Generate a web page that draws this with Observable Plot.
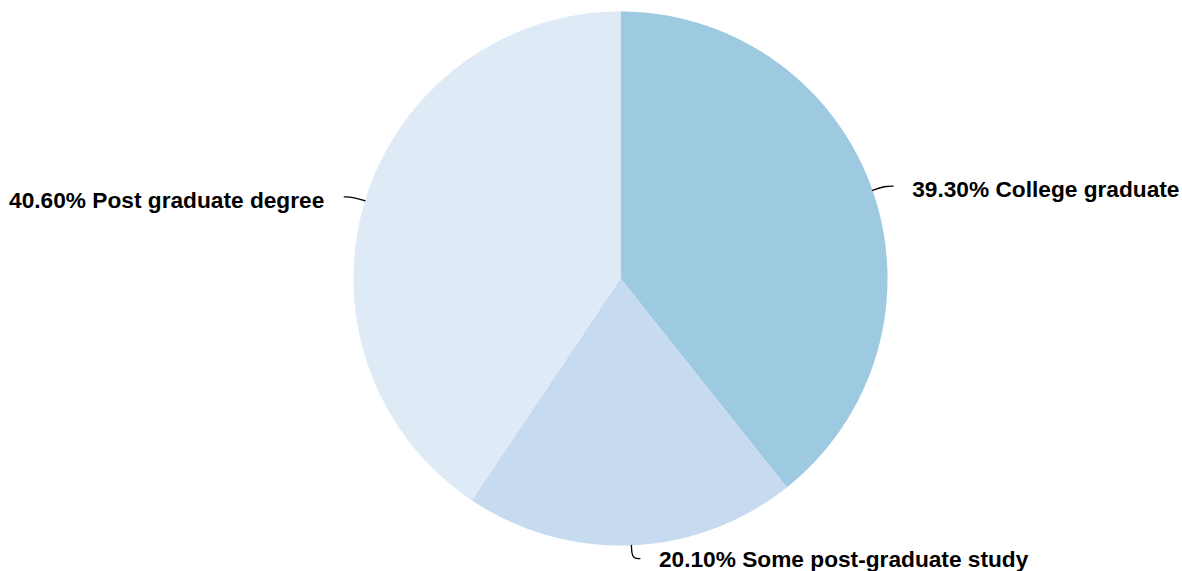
<!DOCTYPE html>
<html>
<head>
<meta charset="utf-8">
<script src="https://cdn.jsdelivr.net/npm/d3@7"></script>
<script src="https://cdn.jsdelivr.net/npm/@observablehq/plot@0.6"></script>
<style>
  html, body { margin: 0; padding: 0; background: #fff; }
  #chart svg { display: block; }
</style>
</head>
<body>
<div id="chart"></div>
<script>
const labels = ["College graduate", "Some post-graduate study", "Post graduate degree"];
const values = [39.3, 20.1, 40.6];
const colors = ["#9ecae1", "#c6dbef", "#deebf7"];

const W = 1182, H = 571;
const cx = 620, cy = 278, R = 267;

const total = d3.sum(values);
const ends = d3.cumsum(values);
const slices = labels.map((label, i) => {
  const a0 = (ends[i] - values[i]) / total * 2 * Math.PI;
  const a1 = ends[i] / total * 2 * Math.PI;
  return {label, value: values[i], a0, a1, mid: (a0 + a1) / 2};
});

// slice polygons (unit circle, angle clockwise from top)
const polys = [];
for (const s of slices) {
  polys.push({label: s.label, x: 0, y: 0});
  const n = Math.max(2, Math.ceil((s.a1 - s.a0) / 0.005));
  for (let k = 0; k <= n; k++) {
    const a = s.a0 + (s.a1 - s.a0) * k / n;
    polys.push({label: s.label, x: Math.sin(a), y: Math.cos(a)});
  }
}

// leader lines and label anchors
const ext = 8 / R;
const leaders = [];
const texts = [];
for (const s of slices) {
  const sx = Math.sin(s.mid), sy = Math.cos(s.mid);
  const side = sx >= 0 ? 1 : -1;
  const ex = 1.05 * sx, ey = 1.05 * sy;
  leaders.push({label: s.label, x: sx, y: sy});
  leaders.push({label: s.label, x: ex, y: ey});
  leaders.push({label: s.label, x: ex + side * ext, y: ey});
  texts.push({
    x: ex + side * ext, y: ey, side, bottom: sy < -0.9,
    text: d3.format(".2f")(s.value) + "% " + s.label
  });
}

const font = "Helvetica, Arial, 'Liberation Sans', sans-serif";
const textOpts = {x: "x", y: "y", text: "text", fontSize: 22.7, fontWeight: "bold", fill: "#000", fontFamily: font};
const chart = Plot.plot({
  width: W,
  height: H,
  margin: 0,
  x: {domain: [-cx / R, (W - cx) / R], axis: null},
  y: {domain: [-(H - cy) / R, cy / R], axis: null},
  color: {domain: labels, range: colors},
  marks: [
    Plot.line(polys, {x: "x", y: "y", z: "label", fill: "label", stroke: null}),
    Plot.line(leaders, {x: "x", y: "y", z: "label", stroke: "#000", strokeWidth: 1.3, curve: "basis"}),
    Plot.text(texts.filter(d => d.side > 0 && !d.bottom), {...textOpts, textAnchor: "start", dx: 19, dy: 4}),
    Plot.text(texts.filter(d => d.bottom), {...textOpts, textAnchor: "start", dx: 19, dy: 1}),
    Plot.text(texts.filter(d => d.side < 0), {...textOpts, textAnchor: "end", dx: -20, dy: 4})
  ]
});
document.getElementById("chart").append(chart);
</script>
</body>
</html>
